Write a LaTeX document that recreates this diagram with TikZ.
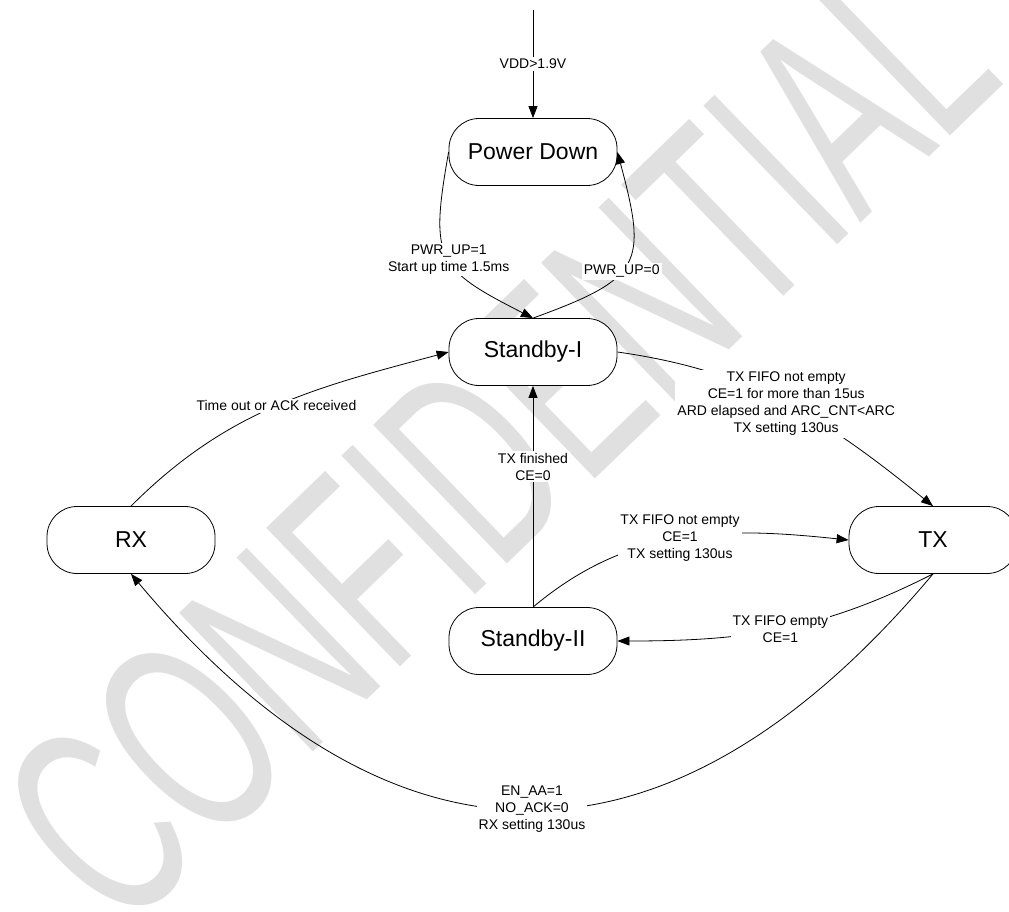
\documentclass[tikz,border=0pt]{standalone}
\usepackage{fontspec}
\setmainfont{Liberation Sans}
\newfontfamily\wmfont[FakeStretch=0.6]{Liberation Sans}
\usetikzlibrary{arrows.meta}

\begin{document}
\begin{tikzpicture}[x=1pt, y=1pt, line width=0.8pt, >={Triangle[length=12pt,width=9pt]},
    state/.style={draw=black, fill=white, rounded corners=30pt, minimum width=168pt, minimum height=67pt, font=\fontsize{23}{27}\selectfont},
    cond/.style={fill=white, inner sep=2pt, align=center, font=\fontsize{14}{17}\selectfont},
    wm/.style={rotate=44, inner sep=0pt, text=black!12, font=\wmfont\fontsize{280}{280}\selectfont},
    node distance=200pt]
  \useasboundingbox (0,0) rectangle (1009,-911);
  \clip (0,0) rectangle (1009,-911);
  \node[wm] (mark) at (498,-439) {CONFIDENTIAL};
  \coordinate (vdd) at (533,-10);
  \node[state] (pd) at (533,-152) {Power Down};
  \node[state] (sb1) [below of=pd] {Standby-I};
  \node[state] (sb2) [below of=sb1, node distance=289pt] {Standby-II};
  \node[state] (rx) at (131,-540) {RX};
  \node[state] (tx) at (933,-540) {TX};
  \draw[->] (vdd) -- node[cond] {VDD>1.9V} (pd);
  \draw[->] (pd.west) to[out=-100, in=153, looseness=1.5] node[cond, pos=0.52] {PWR\_UP=1\\Start up time 1.5ms} (sb1.north);
  \draw[->] (sb1.north) to[out=20, in=-75, looseness=1.6] node[cond, pos=0.43] {PWR\_UP=0} (pd.east);
  \draw[->] (sb1.east) to[out=-8, in=141] node[cond] {TX FIFO not empty\\CE=1 for more than 15us\\ARD elapsed and ARC\_CNT<ARC\\TX setting 130us} (tx.north);
  \draw[->] (rx.north) to[out=45, in=195] node[cond] {Time out or ACK received} (sb1.west);
  \draw[->] (sb2) -- node[cond, pos=0.635] {TX finished\\CE=0} (sb1);
  \draw[->] (sb2.north) to[out=40, in=174] node[cond] {TX FIFO not empty\\CE=1\\TX setting 130us} (tx.west);
  \draw[->] (tx.south) to[out=207, in=0] node[cond] {TX FIFO empty\\CE=1} (sb2.east);
  \draw[->] (tx.south) to[out=-130, in=-50, looseness=1.31] node[cond] {EN\_AA=1\\NO\_ACK=0\\RX setting 130us} (rx.south);
\end{tikzpicture}
\end{document}
